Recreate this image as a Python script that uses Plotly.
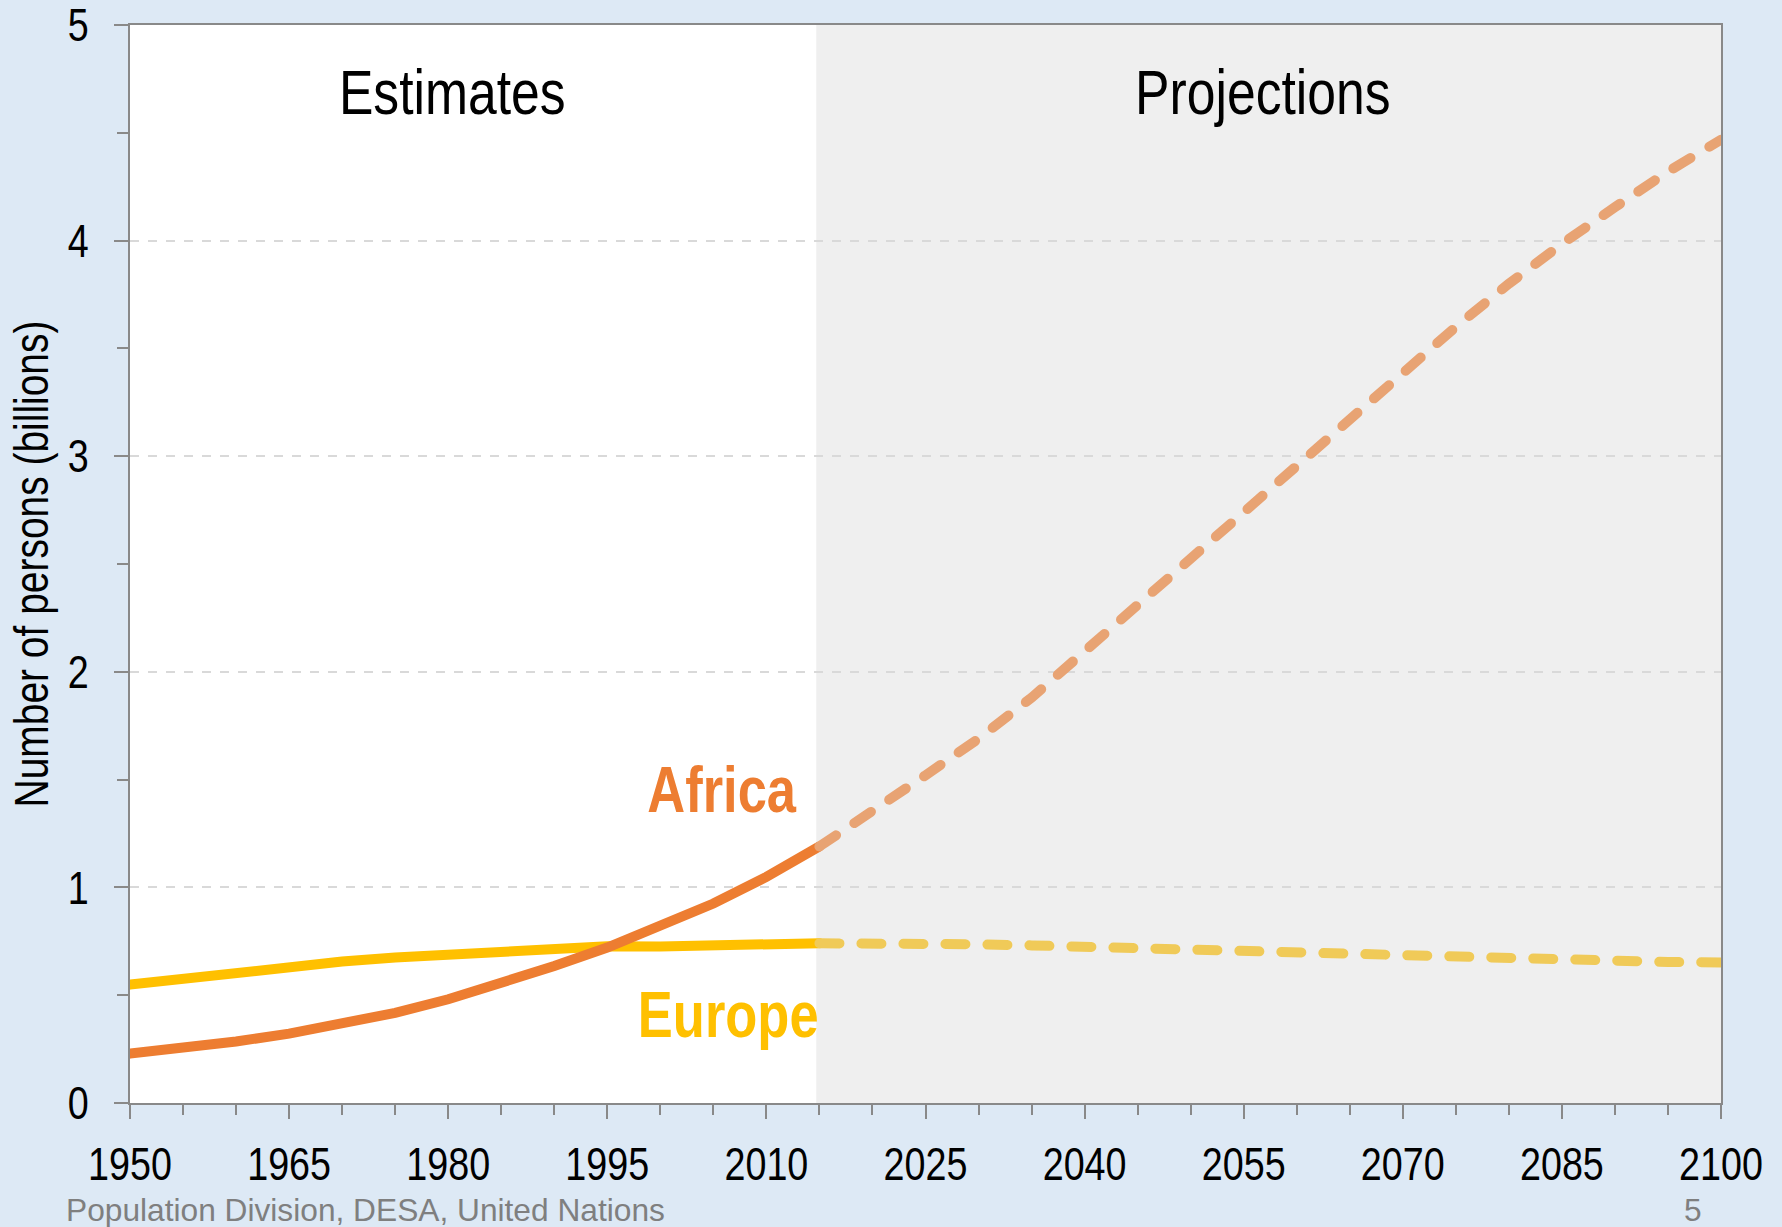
import plotly.graph_objects as go

# ---- data (billions) ----
est_years = [1950, 1955, 1960, 1965, 1970, 1975, 1980, 1985, 1990, 1995, 2000, 2005, 2010, 2015]
africa_est = [0.229, 0.254, 0.285, 0.322, 0.366, 0.418, 0.481, 0.554, 0.635, 0.721, 0.818, 0.925, 1.049, 1.190]
europe_est = [0.549, 0.577, 0.606, 0.635, 0.656, 0.675, 0.690, 0.704, 0.715, 0.727, 0.726, 0.729, 0.736, 0.741]

proj_years = [2015, 2020, 2025, 2030, 2035, 2040, 2045, 2050, 2055, 2060, 2065, 2070,
              2075, 2080, 2085, 2090, 2095, 2100]
africa_proj = [1.190, 1.350, 1.520, 1.690, 1.880, 2.095, 2.310, 2.520, 2.740, 2.965, 3.170, 3.385,
               3.600, 3.800, 3.985, 4.155, 4.320, 4.468]
europe_proj = [0.741, 0.742, 0.740, 0.736, 0.731, 0.724, 0.716, 0.709, 0.703, 0.695, 0.688, 0.681,
               0.673, 0.667, 0.662, 0.657, 0.654, 0.652]

x_tickvals = [1950, 1965, 1980, 1995, 2010, 2025, 2040, 2055, 2070, 2085, 2100]
y_tickvals = [0, 1, 2, 3, 4, 5]
proj_start = 2014.7

FONT = "Liberation Sans, Arial, sans-serif"
ORANGE = "#ED7D31"
ORANGE_P = "#E8A373"
YELLOW = "#FFC000"
YELLOW_P = "#F0CA58"
AXIS = "#898989"

fig = go.Figure()

fig.add_trace(go.Scatter(x=est_years, y=europe_est, mode="lines",
                         line=dict(color=YELLOW, width=10), name="Europe", showlegend=False))
fig.add_trace(go.Scatter(x=est_years, y=africa_est, mode="lines",
                         line=dict(color=ORANGE, width=10), name="Africa", showlegend=False))
fig.add_trace(go.Scatter(x=proj_years, y=europe_proj, mode="lines",
                         line=dict(color=YELLOW_P, width=10, dash="20px,22px"),
                         name="Europe proj", showlegend=False))
fig.add_trace(go.Scatter(x=proj_years, y=africa_proj, mode="lines",
                         line=dict(color=ORANGE_P, width=10, dash="20px,22px"),
                         name="Africa proj", showlegend=False))

fig.add_shape(type="rect", xref="x", yref="y", x0=proj_start, x1=2100, y0=0, y1=5,
              fillcolor="#EFEFEF", line=dict(width=0), layer="below")

# annotations 0-3 are condensed (narrow face emulated in post_script)
fig.add_annotation(x=1980.4, y=4.69, text="Estimates", showarrow=False,
                   font=dict(family=FONT, size=63, color="#000000"))
fig.add_annotation(x=2056.8, y=4.69, text="Projections", showarrow=False,
                   font=dict(family=FONT, size=63, color="#000000"))
fig.add_annotation(x=2005.8, y=1.45, text="<b>Africa</b>", showarrow=False,
                   font=dict(family=FONT, size=64, color=ORANGE))
fig.add_annotation(x=2006.4, y=0.41, text="<b>Europe</b>", showarrow=False,
                   font=dict(family=FONT, size=64, color=YELLOW))

fig.add_annotation(xref="paper", yref="paper", x=-0.0415, y=-0.0993, xanchor="left", yanchor="middle",
                   text="Population Division, DESA, United Nations", showarrow=False,
                   font=dict(family=FONT, size=31.7, color="#7F7F7F"))
fig.add_annotation(xref="paper", yref="paper", x=0.9824, y=-0.0993, xanchor="center", yanchor="middle",
                   text="5", showarrow=False,
                   font=dict(family=FONT, size=31.7, color="#7F7F7F"))

fig.update_layout(
    width=1782, height=1227,
    margin=dict(l=130, r=61, t=25, b=124, autoexpand=False),
    paper_bgcolor="#DDE9F5",
    plot_bgcolor="#FFFFFF",
    font=dict(family=FONT, size=46, color="#000000"),
    showlegend=False,
)

fig.update_xaxes(
    range=[1950, 2100], tickmode="array", tickvals=x_tickvals,
    ticks="outside", ticklen=14, tickwidth=2, tickcolor=AXIS,
    showline=True, linecolor=AXIS, linewidth=2, mirror=True,
    showgrid=False, zeroline=False, automargin=False,
    ticklabelstandoff=6, ticklabeloverflow="allow",
    tickfont=dict(family=FONT, size=46, color="#000000"),
    minor=dict(dtick=5, tick0=1950, ticks="outside", ticklen=10, tickwidth=2,
               tickcolor=AXIS, showgrid=False),
)
fig.update_yaxes(
    range=[0, 5], tickmode="array", tickvals=y_tickvals,
    ticks="outside", ticklen=14, tickwidth=2, tickcolor=AXIS,
    showline=True, linecolor=AXIS, linewidth=2, mirror=True,
    showgrid=True, gridcolor="#D9D9D9", gridwidth=1.5, griddash="dash",
    zeroline=False, automargin=False,
    ticklabelstandoff=16, ticklabeloverflow="allow",
    tickfont=dict(family=FONT, size=46, color="#000000"),
    title=dict(text="Number of persons (billions)", standoff=0,
               font=dict(family=FONT, size=47.5, color="#000000")),
    minor=dict(dtick=0.5, tick0=0, ticks="outside", ticklen=11, tickwidth=2,
               tickcolor=AXIS, showgrid=False),
)

post = """
document.body.style.margin = '0';
document.body.style.background = '#DDE9F5';
var gd = document.querySelector('.plotly-graph-div');
gd.querySelectorAll('.scatterlayer .trace .js-line').forEach(function(p){
  p.style.strokeLinecap = 'round';
});
function squeeze(t, s){
  var x = parseFloat(t.getAttribute('x')) || 0;
  var y = parseFloat(t.getAttribute('y')) || 0;
  var tr = t.getAttribute('transform') || '';
  t.setAttribute('transform', tr + ' translate(' + x + ',' + y + ') scale(' + s + ',1) translate(' + (-x) + ',' + (-y) + ')');
}
gd.querySelectorAll('.xtick text, .ytick text, text.ytitle').forEach(function(t){ squeeze(t, 0.82); });
gd.querySelectorAll('.annotation').forEach(function(a){
  var i = parseInt(a.getAttribute('data-index'));
  if (i <= 3) { a.querySelectorAll('text').forEach(function(t){ squeeze(t, 0.82); }); }
});
"""
fig.write_html("out.html", post_script=post, config={"displayModeBar": False})
